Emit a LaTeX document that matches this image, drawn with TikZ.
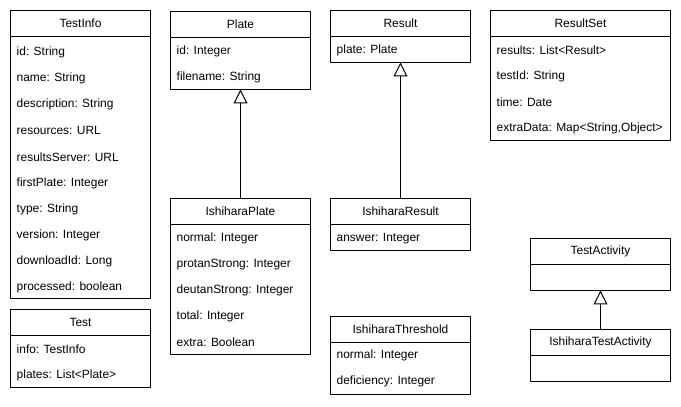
\documentclass[tikz,border=0pt]{standalone}
\usepackage{fontspec}
\setmainfont{Liberation Sans}
\usetikzlibrary{arrows.meta,positioning}

\begin{document}
\begin{tikzpicture}[line join=bevel,
  classhead/.style={draw,rectangle,line width=1bp,inner sep=0pt,outer sep=0pt,
    minimum width=140bp,minimum height=26bp,font=\fontsize{12}{14}\selectfont},
  classbody/.style={draw,rectangle,line width=1bp,inner sep=0pt,outer sep=0pt,
    minimum width=140bp,anchor=north},
  attr/.style={anchor=west,inner sep=0pt,font=\fontsize{12}{14}\selectfont},
  gen/.style={-{Triangle[open,length=14bp,width=14bp]},line width=1bp},
]

\useasboundingbox (0bp,0bp) rectangle (681bp,407bp);

% half a pixel off, so that the lines stay sharp
\begin{scope}[shift={(0.5bp,-0.5bp)}]

% Node: TestInfo
\node[classhead] (testinfo) at (80bp,384bp) {TestInfo};
\node[classbody,minimum height=262bp] (testinfo-body) at (testinfo.south) {};
\foreach \a [count=\i from 0] in {id: String, name: String, description: String,
    resources: URL, resultsServer: URL, firstPlate: Integer, type: String,
    version: Integer, downloadId: Long, processed: boolean}
  \node[attr] (testinfo-\i) at ({16bp},{355bp-\i*26.1bp}) {\a};

% Node: Test
\node[classhead] (test) at (80bp,85bp) {Test};
\node[classbody,minimum height=52bp] (test-body) at (test.south) {};
\foreach \a [count=\i from 0] in {info: TestInfo, plates: List<Plate>}
  \node[attr] (test-\i) at ({16bp},{58bp-\i*26bp}) {\a};

% Node: Plate
\node[classhead] (plate) at (240bp,383bp) {Plate};
\node[classbody,minimum height=52bp] (plate-body) at (plate.south) {};
\foreach \a [count=\i from 0] in {id: Integer, filename: String}
  \node[attr] (plate-\i) at ({176bp},{356bp-\i*26bp}) {\a};

% Node: IshiharaPlate
\node[classhead] (ishiharaplate) at (240bp,196bp) {IshiharaPlate};
\node[classbody,minimum height=130bp] (ishiharaplate-body) at (ishiharaplate.south) {};
\foreach \a [count=\i from 0] in {normal: Integer, protanStrong: Integer,
    deutanStrong: Integer, total: Integer, extra: Boolean}
  \node[attr] (ishiharaplate-\i) at ({176bp},{169bp-\i*26bp}) {\a};

% Node: Result
\node[classhead] (result) at (400bp,384bp) {Result};
\node[classbody,minimum height=26bp] (result-body) at (result.south) {};
\node[attr] (result-0) at (336bp,357bp) {plate: Plate};

% Node: IshiharaResult
\node[classhead] (ishihararesult) at (400bp,196bp) {IshiharaResult};
\node[classbody,minimum height=26bp] (ishihararesult-body) at (ishihararesult.south) {};
\node[attr] (ishihararesult-0) at (336bp,169bp) {answer: Integer};

% Node: IshiharaThreshold
\node[classhead] (threshold) at (400bp,78bp) {IshiharaThreshold};
\node[classbody,minimum height=52bp] (threshold-body) at (threshold.south) {};
\foreach \a [count=\i from 0] in {normal: Integer, deficiency: Integer}
  \node[attr] (threshold-\i) at ({336bp},{52bp-\i*26bp}) {\a};

% Node: ResultSet
\node[classhead,minimum width=180bp] (resultset) at (580bp,384bp) {ResultSet};
\node[classbody,minimum width=180bp,minimum height=104bp] (resultset-body) at (resultset.south) {};
\foreach \a [count=\i from 0] in {results: List<Result>, testId: String,
    time: Date, {extraData: Map<String,Object>}}
  \node[attr] (resultset-\i) at ({496bp},{357bp-\i*26bp}) {\a};

% Node: TestActivity
\node[classhead] (activity) at (600bp,156bp) {TestActivity};
\node[classbody,minimum height=26bp] (activity-body) at (activity.south) {};

% Node: IshiharaTestActivity
\node[classhead] (ishiharaactivity) at (600bp,65bp) {IshiharaTestActivity};
\node[classbody,minimum height=26bp] (ishiharaactivity-body) at (ishiharaactivity.south) {};

% Edge: IshiharaPlate -> Plate
\draw[gen] (ishiharaplate.north) -- (plate-body.south);

% Edge: IshiharaResult -> Result
\draw[gen] (ishihararesult.north) -- (result-body.south);

% Edge: IshiharaTestActivity -> TestActivity
\draw[gen] (ishiharaactivity.north) -- (activity-body.south);

\end{scope}

\end{tikzpicture}
\end{document}
